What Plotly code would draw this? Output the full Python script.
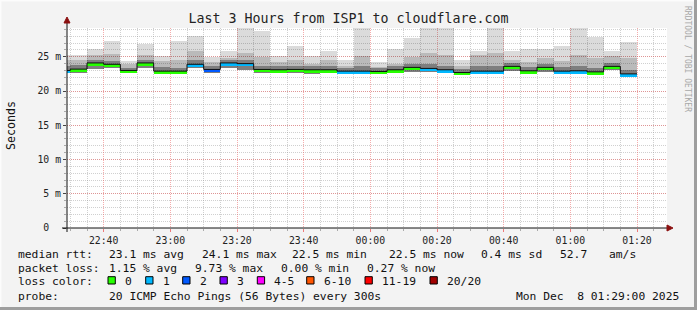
import plotly.graph_objects as go
import pandas as pd

# ---------------- data ----------------
bar_start_first = "2025-12-07 22:25:00"   # first 5-minute step (partly visible)
step_seconds = 300
n_steps = 35

median_ms = [23.0, 23.2, 24.1, 23.9, 23.0, 24.1, 22.9, 22.9, 23.9, 23.15, 24.1, 24.0,
             23.15, 23.1, 23.15, 23.1, 23.1, 22.9, 22.9, 22.85, 23.1, 23.45, 23.3, 23.1,
             22.7, 22.9, 22.9, 23.6, 22.95, 23.45, 22.9, 22.95, 22.8, 23.6, 22.5]
lost_pings = [1, 0, 0, 0, 0, 0, 0, 0, 1, 2, 1, 1,
              0, 0, 0, 0, 0, 1, 1, 0, 0, 0, 1, 1,
              0, 1, 1, 0, 0, 0, 1, 1, 0, 0, 1]
smoke_max = [25.2, 25.2, 26.2, 27.3, 24.4, 26.9, 25.1, 27.3, 28.0, 25.0, 25.9, 29.5,
             28.8, 25.1, 26.6, 25.1, 25.8, 24.5, 29.5, 24.3, 26.2, 27.8, 29.5, 29.5,
             24.5, 25.8, 29.5, 25.9, 26.1, 26.2, 26.6, 29.5, 27.95, 25.9, 27.2]
smoke_mid = [24.5, 24.5, 25.3, 25.4, 23.9, 25.2, 24.4, 24.6, 25.8, 24.3, 24.8, 25.6,
             25.0, 24.3, 24.6, 24.0, 24.5, 23.7, 25.1, 23.5, 24.0, 25.0, 25.6, 25.2,
             23.6, 25.2, 25.6, 24.5, 24.2, 24.8, 24.4, 25.2, 24.8, 25.1, 24.8]
smoke_dark = [23.6, 23.8, 24.5, 24.4, 23.4, 24.5, 23.5, 23.4, 24.5, 23.7, 24.6, 24.6,
              23.7, 23.6, 23.7, 23.6, 23.7, 23.4, 23.6, 23.3, 23.6, 24.0, 23.9, 23.7,
              23.2, 23.6, 23.6, 24.1, 23.5, 24.0, 23.5, 23.6, 23.4, 24.1, 23.1]
smoke_min = [22.6, 22.7, 23.2, 23.4, 22.6, 23.4, 22.5, 22.5, 23.3, 22.6, 23.4, 23.1,
             22.6, 22.6, 22.7, 22.5, 22.6, 22.5, 22.6, 22.5, 22.7, 22.8, 22.8, 22.6,
             22.3, 22.5, 22.5, 22.9, 22.5, 22.8, 22.6, 22.5, 22.4, 23.0, 22.2]

loss_labels = ["0", "1", "2", "3", "4-5", "6-10", "11-19", "20/20"]
loss_upper = [0, 1, 2, 3, 5, 10, 19, 20]
loss_colors = ["#26ff00", "#00b8ff", "#0059ff", "#7e00ff", "#ff00ff", "#ff5500", "#ff0000", "#a10000"]

y_tick_vals = [0, 5, 10, 15, 20, 25]
y_tick_text = ["0\u00a0\u00a0", "5 m", "10 m", "15 m", "20 m", "25 m"]

title_text = "Last 3 Hours from ISP1 to cloudflare.com"
legend_line1 = [("median rtt:", 16), ("23.1 ms avg", 107), ("24.1 ms max", 200),
                ("22.5 ms min", 290), ("22.5 ms now", 387), ("0.4 ms sd", 479),
                ("52.7", 558), ("am/s", 607)]
legend_line2 = [("packet loss:", 16), ("1.15 % avg", 107), ("9.73 % max", 193),
                ("0.00 % min", 279), ("0.27 % now", 365)]
legend_swatch_x = [108, 145.7, 182.7, 220, 257.3, 306.7, 365, 430]
probe_text = "20 ICMP Echo Pings (56 Bytes) every 300s"
date_text = "Mon Dec\u00a0\u00a08 01:29:00 2025"

# ---------------- geometry helpers ----------------
W, H = 697, 310
L, R, T, B = 67, 30, 28, 82
PW, PH = W - L - R, H - T - B
FONT = "DejaVu Sans Mono"


def px(x):
    return (x - L) / PW


def py(y):
    return (H - B - y) / PH


starts = pd.date_range(bar_start_first, periods=n_steps, freq=f"{step_seconds}s")
centers = starts + pd.Timedelta(seconds=step_seconds / 2)
width_ms = step_seconds * 1000


def loss_color(n):
    for up, c in zip(loss_upper, loss_colors):
        if n <= up:
            return c
    return loss_colors[-1]


fig = go.Figure()

# smoke layers (semi-transparent so the grid shows through, like rrdtool)
layers = [
    (smoke_min, smoke_max, "rgba(0,0,0,0.14)"),
    (smoke_min, smoke_mid, "rgba(0,0,0,0.15)"),
    (smoke_min, smoke_dark, "rgba(0,0,0,0.32)"),
]
for lo, hi, col in layers:
    fig.add_trace(go.Bar(
        x=centers, y=[h - l for l, h in zip(lo, hi)], base=lo, width=width_ms,
        marker=dict(color=col, line=dict(width=0)), hoverinfo="skip", showlegend=False))

# median band coloured by loss
band = 0.4
fig.add_trace(go.Bar(
    x=centers, y=[band] * n_steps, base=[m - band for m in median_ms], width=width_ms,
    marker=dict(color=[loss_color(n) for n in lost_pings], line=dict(width=0)),
    hoverinfo="skip", showlegend=False))

# black median step line
fig.add_trace(go.Scatter(
    x=list(starts) + [starts[-1] + pd.Timedelta(seconds=step_seconds)],
    y=median_ms + [median_ms[-1]], mode="lines",
    line=dict(color="#111111", width=1, shape="hv"), hoverinfo="skip", showlegend=False))

grid_major = "rgba(235,90,90,0.5)"
grid_minor = "rgba(150,150,150,0.45)"

fig.update_layout(
    width=W, height=H, autosize=False,
    margin=dict(l=L, r=R, t=T, b=B, pad=0),
    paper_bgcolor="#f3f3f3", plot_bgcolor="white",
    barmode="overlay", bargap=0, showlegend=False,
    font=dict(family=FONT, color="#111111"),
    title=dict(text=title_text, x=0.5, xref="container", xanchor="center",
               y=1 - 18 / H, yref="container", yanchor="middle",
               font=dict(family=FONT, size=13.3, color="#222222")),
    xaxis=dict(
        type="date", range=["2025-12-07 22:29:00", "2025-12-08 01:29:00"],
        tickformat="%H:%M", tick0="2025-12-07 22:40:00", dtick=1200000,
        showgrid=True, gridcolor=grid_major, griddash="1px,1px", gridwidth=1,
        ticks="outside", ticklen=3, tickcolor="rgba(235,90,90,0.8)",
        tickfont=dict(family=FONT, size=9.8, color="#222222"),
        showline=False, zeroline=False, fixedrange=True,
        minor=dict(tick0="2025-12-07 22:40:00", dtick=300000, showgrid=True,
                   gridcolor=grid_minor, griddash="1px,1px", gridwidth=1,
                   ticks="outside", ticklen=2, tickcolor="#aaaaaa"),
    ),
    yaxis=dict(
        range=[0, 29.2], tickvals=y_tick_vals, ticktext=y_tick_text,
        showgrid=True, gridcolor=grid_major, griddash="1px,1px", gridwidth=1,
        ticks="outside", ticklen=3, tickcolor="#444444", ticklabelstandoff=0,
        tickfont=dict(family=FONT, size=9.8, color="#222222"),
        showline=False, zeroline=False, fixedrange=True,
        minor=dict(dtick=1, showgrid=True, gridcolor=grid_minor, griddash="1px,1px",
                   gridwidth=1, ticks="outside", ticklen=2, tickcolor="#aaaaaa"),
    ),
)

shapes = []
# axis lines extending beyond the plot, with arrows
shapes.append(dict(type="line", xref="paper", yref="paper", x0=px(62), x1=px(668),
                   y0=0, y1=0, line=dict(color="#111111", width=1)))
shapes.append(dict(type="line", xref="paper", yref="paper", x0=0, x1=0,
                   y0=py(232), y1=py(22), line=dict(color="#111111", width=1)))
shapes.append(dict(type="path", xref="paper", yref="paper",
                   path=f"M {px(667)} {py(225)} L {px(673)} {py(228)} L {px(667)} {py(231)} Z",
                   fillcolor="#8b1010", line=dict(color="#8b1010", width=1)))
shapes.append(dict(type="path", xref="paper", yref="paper",
                   path=f"M {px(64)} {py(23)} L {px(67)} {py(17)} L {px(70)} {py(23)} Z",
                   fillcolor="#8b1010", line=dict(color="#8b1010", width=1)))
# 3D frame of the image
shapes.append(dict(type="line", xref="paper", yref="paper", x0=px(0), x1=px(697),
                   y0=py(0.5), y1=py(0.5), line=dict(color="#fcfcfc", width=2)))
shapes.append(dict(type="line", xref="paper", yref="paper", x0=px(0.5), x1=px(0.5),
                   y0=py(0), y1=py(310), line=dict(color="#fcfcfc", width=2)))
shapes.append(dict(type="line", xref="paper", yref="paper", x0=px(0), x1=px(697),
                   y0=py(308.5), y1=py(308.5), line=dict(color="#9e9e9e", width=3)))
shapes.append(dict(type="line", xref="paper", yref="paper", x0=px(695.5), x1=px(695.5),
                   y0=py(0), y1=py(310), line=dict(color="#9e9e9e", width=3)))
# loss colour swatches
for sx, col in zip(legend_swatch_x, loss_colors):
    shapes.append(dict(type="rect", xref="paper", yref="paper",
                       x0=px(sx), x1=px(sx + 7.3), y0=py(284), y1=py(276.7),
                       fillcolor=col, line=dict(color="#000000", width=1)))
fig.update_layout(shapes=shapes)

ann = []


def text(t, x, y, size=11.3, anchor="left", color="#111111", angle=0):
    ann.append(dict(text=t, x=px(x), y=py(y), xref="paper", yref="paper",
                    xanchor=anchor, yanchor="middle", showarrow=False, textangle=angle,
                    font=dict(family=FONT, size=size, color=color)))


for t, x in legend_line1:
    text(t, x, 254.5)
for t, x in legend_line2:
    text(t, x, 268.5)
text("loss color:", 16, 281.5)
for lab, sx in zip(loss_labels, legend_swatch_x):
    text(lab, sx + 15, 281.5)
text("probe:", 16, 296)
text(probe_text, 107, 296)
text(date_text, 681, 296, anchor="right")
text("Seconds", 11, 126, size=11.6, anchor="center", angle=-90)
text("RRDTOOL / TOBI OETIKER", 688, 59, size=8, color="#a8a8a8", anchor="center", angle=90)
fig.update_layout(annotations=ann)

fig.write_html("out.html")
